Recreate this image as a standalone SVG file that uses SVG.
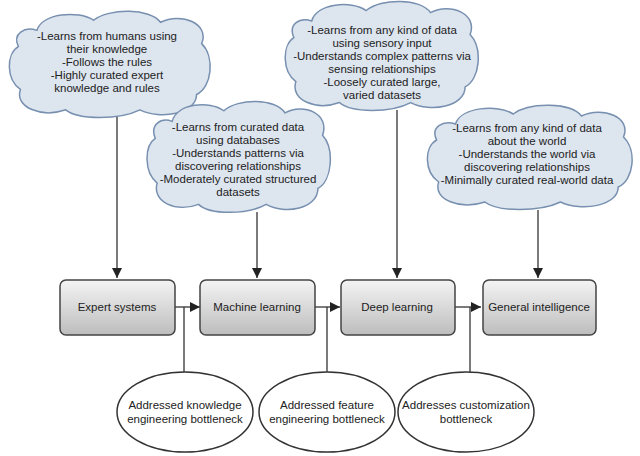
<svg xmlns="http://www.w3.org/2000/svg" xmlns:xlink="http://www.w3.org/1999/xlink" width="640" height="456" viewBox="0 0 640 456">
<style>
text{font-family:"Liberation Sans",Arial,sans-serif;font-size:11.5px;fill:#222;text-anchor:middle}
.cl{fill:#dde5ef;stroke:#7890b0;stroke-width:1.5}
.bx{fill:url(#g);stroke:#444;stroke-width:1.5}
.el{fill:#fff;stroke:#333;stroke-width:1.5}
.ln{stroke:#333;stroke-width:1.3;fill:none}
</style>
<defs>
<linearGradient id="g" x1="0" y1="0" x2="0" y2="1"><stop offset="0" stop-color="#f4f4f4"/><stop offset="1" stop-color="#bdbdbd"/></linearGradient>
<symbol id="cloud" viewBox="0 0 200 110" preserveAspectRatio="none">
<path class="cl" vector-effect="non-scaling-stroke" d="M30,22 C35,5 70,2 85,12 C100,0 140,0 150,14 C170,4 198,15 190,35 C203,48 200,78 185,85 C185,104 150,110 130,100 C110,110 70,110 58,100 C35,108 8,98 14,80 C0,70 0,45 12,38 C6,25 18,18 30,22 Z"/>
</symbol>
<marker id="a" viewBox="0 0 10 10" refX="10" refY="5" markerWidth="8" markerHeight="8" orient="auto"><path d="M0,0 L10,5 L0,10 Z" fill="#222"/></marker>
</defs>
<rect width="640" height="456" fill="#fff"/>
<g id="connectors">
<path class="ln" d="M117,116 V278" marker-end="url(#a)"/>
<path class="ln" d="M257,212 V278" marker-end="url(#a)"/>
<path class="ln" d="M397,110 V278" marker-end="url(#a)"/>
<path class="ln" d="M538,210 V278" marker-end="url(#a)"/>
<path class="ln" d="M175,307 H200" marker-end="url(#a)"/>
<path class="ln" d="M315,307 H340" marker-end="url(#a)"/>
<path class="ln" d="M455,307 H481" marker-end="url(#a)"/>
<path class="ln" d="M184,307 V374"/>
<path class="ln" d="M327,307 V374"/>
<path class="ln" d="M470,307 V374"/>
</g>
<g id="cloud1"><use xlink:href="#cloud" x="6" y="8" width="206" height="112"/>
<text x="107" y="40">-Learns from humans using</text><text x="107" y="53">their knowledge</text><text x="107" y="66">-Follows the rules</text><text x="107" y="79">-Highly curated expert</text><text x="107" y="92">knowledge and rules</text></g>
<g id="cloud2"><use xlink:href="#cloud" x="144" y="98" width="188" height="117"/>
<text x="238" y="131">-Learns from curated data</text><text x="238" y="144">using databases</text><text x="238" y="157">-Understands patterns via</text><text x="238" y="170">discovering relationships</text><text x="238" y="183">-Moderately curated structured</text><text x="238" y="196">datasets</text></g>
<g id="cloud3"><use xlink:href="#cloud" x="282" y="-2" width="198" height="115"/>
<text x="382" y="34">-Learns from any kind of data</text><text x="382" y="47">using sensory input</text><text x="382" y="60">-Understands complex patterns via</text><text x="382" y="73">sensing relationships</text><text x="382" y="86">-Loosely curated large,</text><text x="382" y="99">varied datasets</text></g>
<g id="cloud4"><use xlink:href="#cloud" x="424" y="102" width="210" height="110"/>
<text x="527" y="132">-Learns from any kind of data</text><text x="527" y="145">about the world</text><text x="527" y="158">-Understands the world via</text><text x="527" y="171">discovering relationships</text><text x="527" y="184">-Minimally curated real-world data</text></g>
<g id="expert"><rect class="bx" x="60" y="280" width="115" height="55" rx="6"/><text x="117" y="311">Expert systems</text></g>
<g id="ml"><rect class="bx" x="200" y="280" width="115" height="55" rx="6"/><text x="257" y="311">Machine learning</text></g>
<g id="dl"><rect class="bx" x="341" y="280" width="114" height="55" rx="6"/><text x="397" y="311">Deep learning</text></g>
<g id="gi"><rect class="bx" x="483" y="280" width="113" height="55" rx="6"/><text x="539" y="311">General intelligence</text></g>
<g id="e1"><ellipse class="el" cx="185" cy="412" rx="68" ry="40"/><text x="185" y="409">Addressed knowledge</text><text x="185" y="423">engineering bottleneck</text></g>
<g id="e2"><ellipse class="el" cx="327" cy="412" rx="68" ry="40"/><text x="327" y="409">Addressed feature</text><text x="327" y="423">engineering bottleneck</text></g>
<g id="e3"><ellipse class="el" cx="466" cy="412" rx="68" ry="40"/><text x="466" y="409">Addresses customization</text><text x="466" y="423">bottleneck</text></g>
</svg>
